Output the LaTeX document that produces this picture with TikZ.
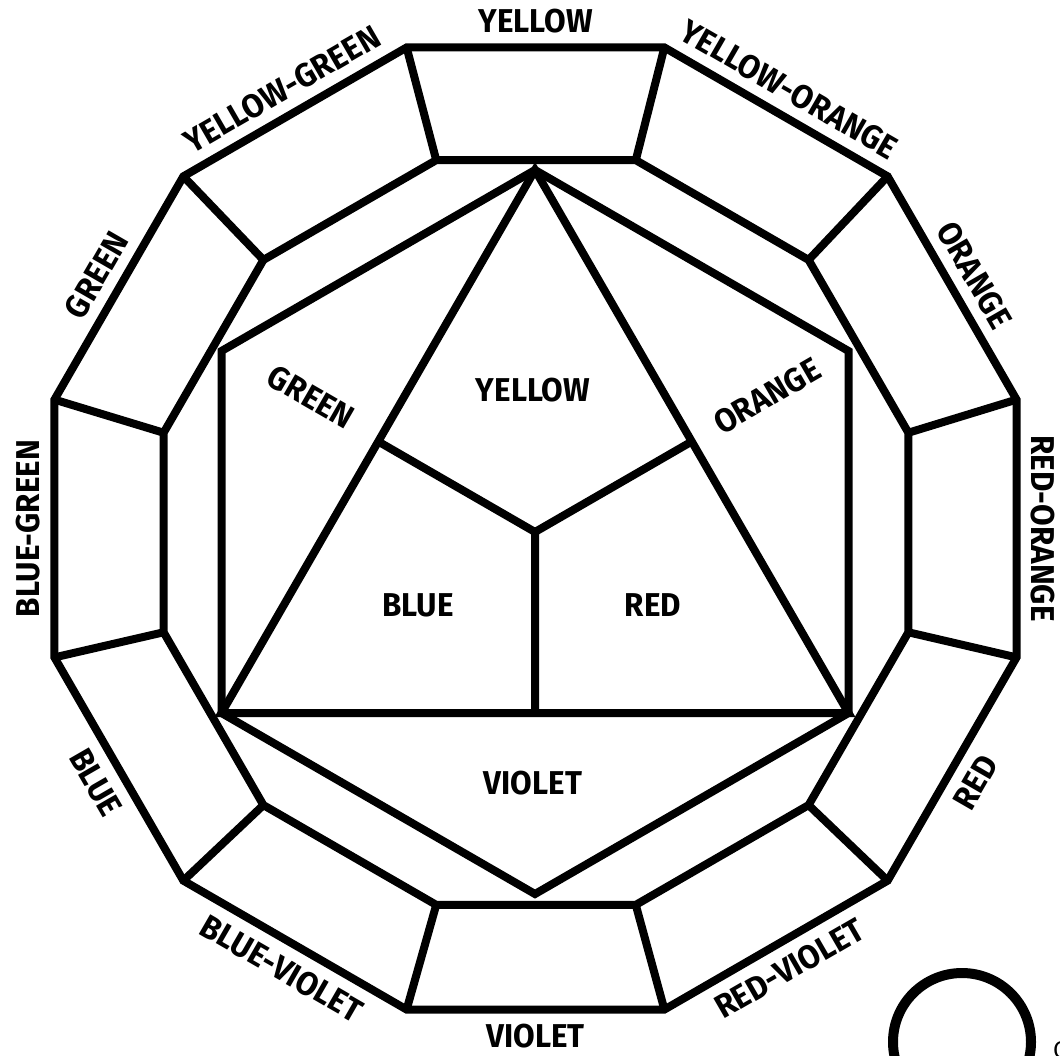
\documentclass[tikz,border=0pt]{standalone}
\usepackage{fontspec}
\setmainfont{Fira Sans}
\newfontfamily\labfont[FakeStretch=0.95]{Fira Sans}
\usetikzlibrary{calc}
\begin{document}
\begin{tikzpicture}[x=1pt,y=-1pt, line width=8pt, line join=miter,
  lab/.style={font=\labfont\fontsize{33}{33}\selectfont\bfseries, inner sep=0pt},
  ring/.style={draw=black, line width=8pt}]
\useasboundingbox (0,0) rectangle (1060,1055);
\clip (0,0) rectangle (1060,1055);
\fill[white] (0,0) rectangle (1060,1055);
\def\ocx{535.5}\def\ocy{528.5}\def\oR{498}
\def\icx{536}\def\icy{532.5}\def\iR{385.5}
\def\hcx{535}\def\hcy{532}\def\hR{362}
\foreach \k in {0,...,11}{
  \pgfmathsetmacro\a{15+30*\k}
  \coordinate (o\k) at ({\ocx+\oR*cos(\a)},{\ocy-\oR*sin(\a)});
  \coordinate (i\k) at ({\icx+\iR*cos(\a)},{\icy-\iR*sin(\a)});
}
\foreach \k in {0,...,5}{
  \pgfmathsetmacro\a{90+60*\k}
  \coordinate (h\k) at ({\hcx+\hR*cos(\a)},{\hcy-\hR*sin(\a)});
}
\coordinate (yc) at (\hcx,\hcy);
% outer and inner dodecagons
\draw[ring] (o0)--(o1)--(o2)--(o3)--(o4)--(o5)--(o6)--(o7)--(o8)--(o9)--(o10)--(o11)--cycle;
\draw[ring] (i0)--(i1)--(i2)--(i3)--(i4)--(i5)--(i6)--(i7)--(i8)--(i9)--(i10)--(i11)--cycle;
\foreach \k in {0,...,11}{\draw[ring] (o\k)--(i\k);}
% hexagon and triangle
\draw[ring] (h0)--(h1)--(h2)--(h3)--(h4)--(h5)--cycle;
\draw[ring] (h0)--(h2)--(h4)--cycle;
\coordinate (m02) at ($(h0)!0.5!(h2)$);
\coordinate (m04) at ($(h0)!0.5!(h4)$);
\coordinate (m24) at ($(h2)!0.5!(h4)$);
\draw[ring] (yc)--(m02) (yc)--(m04) (yc)--(m24);
% outer labels
\foreach \a/\t/\n in {90/YELLOW/1, 60/YELLOW-ORANGE/2, 30/ORANGE/3, 0/RED-ORANGE/4,
   180/BLUE-GREEN/5, 150/GREEN/6, 120/YELLOW-GREEN/7}{
  \node[lab, rotate=\a-90] (lab\n) at ({\ocx+507*cos(\a)},{\ocy-507*sin(\a)}) {\t};
}
\foreach \a/\t/\n in {-30/RED/8, -60/RED-VIOLET/9, -90/VIOLET/10, -120/BLUE-VIOLET/11, -150/BLUE/12}{
  \node[lab, rotate=\a+90] (lab\n) at ({\ocx+508*cos(\a)},{\ocy-508*sin(\a)}) {\t};
}
% inner labels
\node[lab, rotate=-30] (igreen) at (311,397) {GREEN};
\node[lab] (iyellow) at (533,390) {YELLOW};
\node[lab, rotate=30] (iorange) at (767,396) {ORANGE};
\node[lab] (iblue) at (418,605) {BLUE};
\node[lab] (ired) at (653,605) {RED};
\node[lab] (iviolet) at (533,783) {VIOLET};
% bottom right mark
\node[circle, draw, line width=10pt, minimum size=138pt, inner sep=0pt] (logo) at (962,1042) {};
\node[anchor=base west, font=\fontsize{24}{24}\selectfont, inner sep=0pt] (ctext) at (1049,1058) {C};
\end{tikzpicture}
\end{document}
